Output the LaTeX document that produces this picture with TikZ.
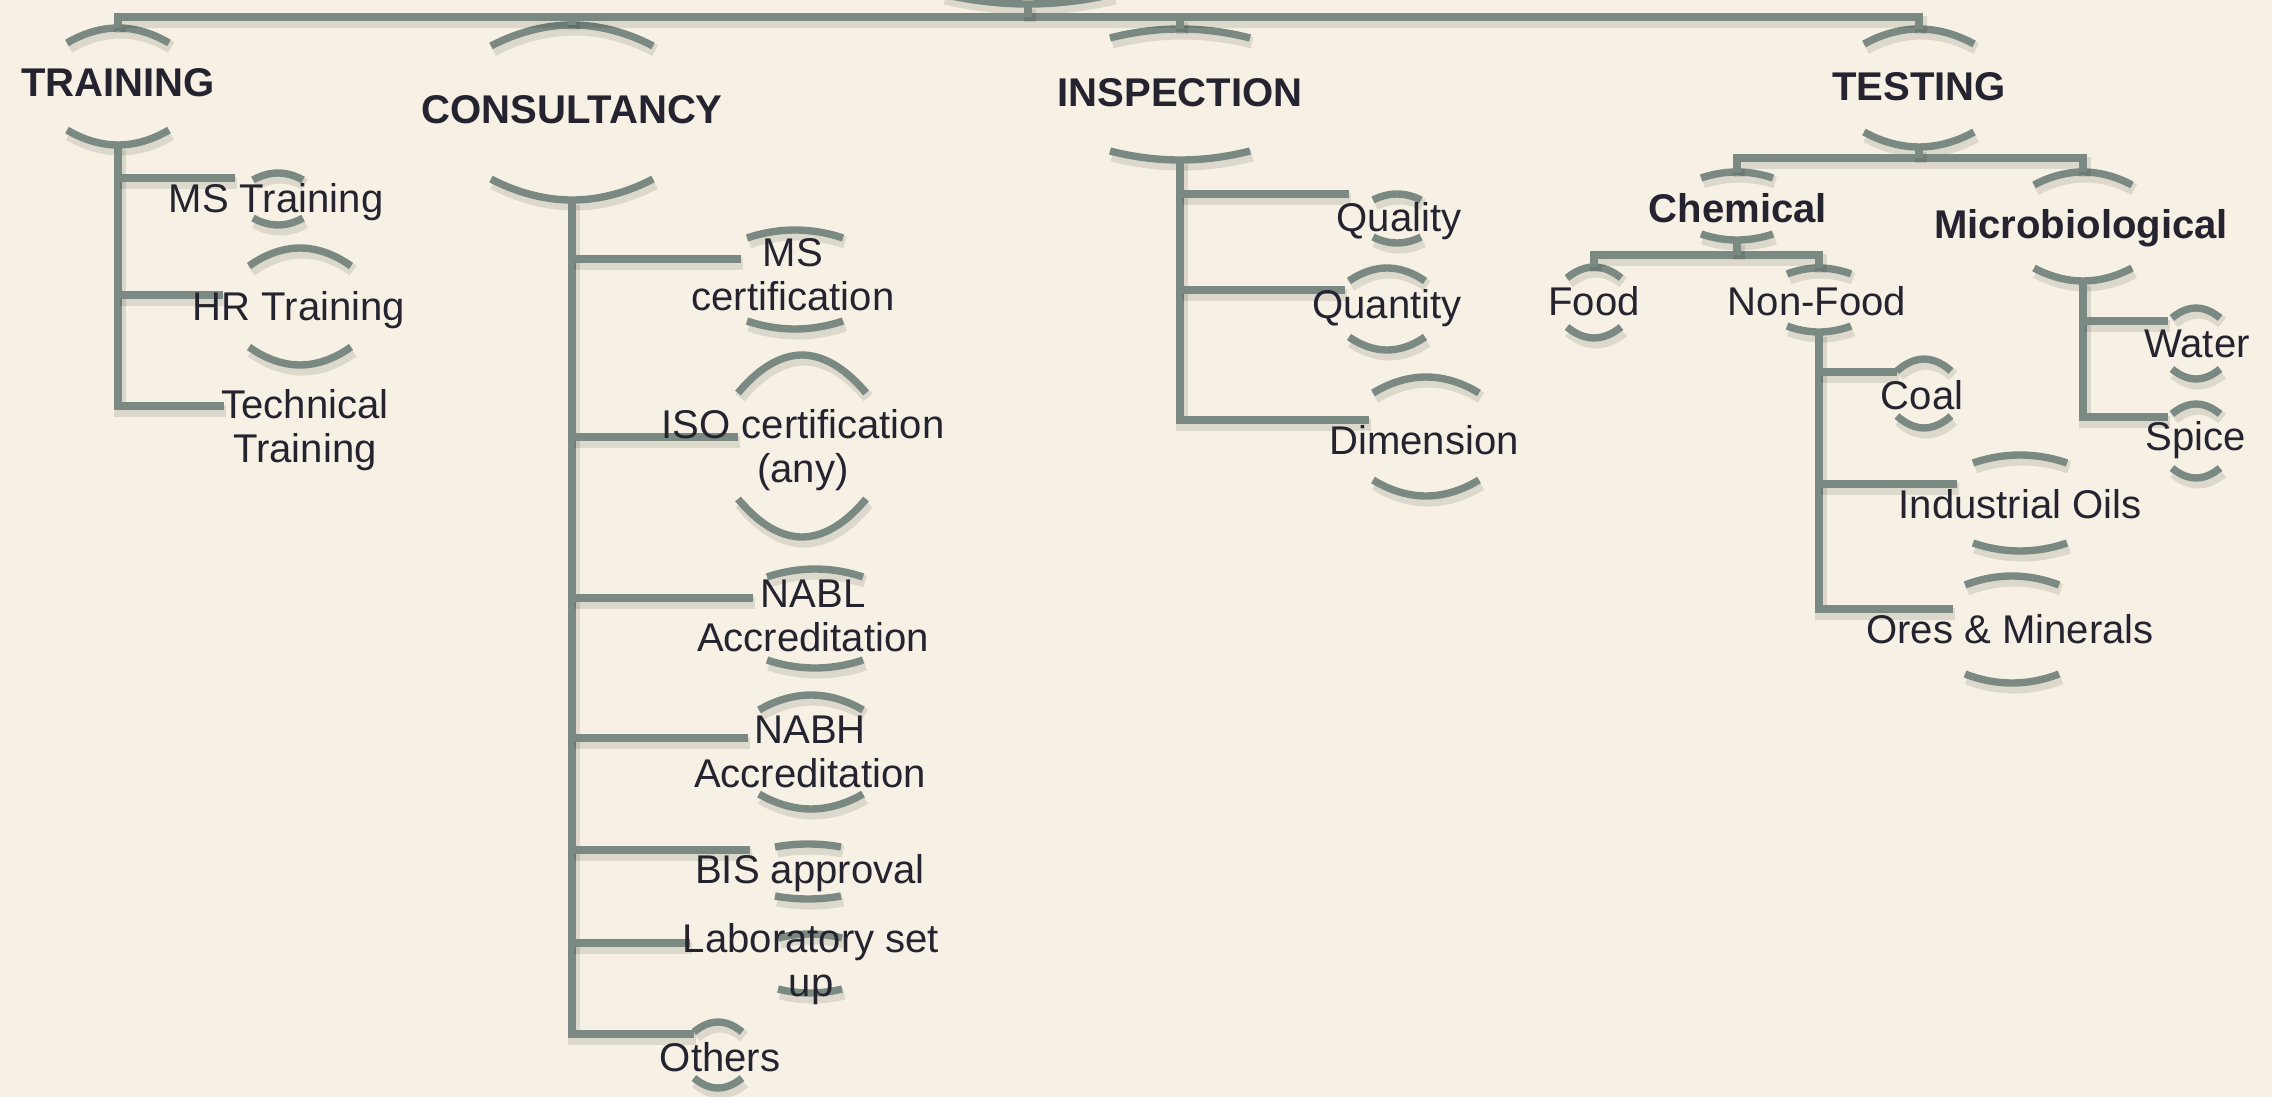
\documentclass[tikz,border=0pt]{standalone}
\usepackage{fontspec}
\setmainfont{Liberation Sans}
\usetikzlibrary{calc}
\definecolor{linegray}{HTML}{7B8983}
\definecolor{inkdark}{HTML}{24232F}
\definecolor{paper}{HTML}{F6F1E4}
\tikzset{
    shade line/.style = { preaction={draw=black, draw opacity=0.10, line width=3.4pt, transform canvas={shift={(0.6pt,-1.3pt)}}} },
      conn/.style = { line width=2.3pt, color=linegray, shade line },
   halfarc/.style = { line width=2.1pt, color=linegray, shade line },
      item/.style = { font=\fontsize{11.4}{12.6}\selectfont, text=inkdark, align=center, inner sep=0pt },
      head/.style = { item, font=\fontsize{11.4}{12.6}\selectfont\bfseries }
}
% name, x, top apex, bottom apex, half width, sag
\newcommand\harcs[6]{%
  \coordinate (#1-t) at (#2,#3);
  \coordinate (#1-b) at (#2,#4);
  \draw[halfarc] ({#2-#5},{#3+#6}) parabola bend (#1-t) ({#2+#5},{#3+#6});
  \draw[halfarc] ({#2-#5},{#4-#6}) parabola bend (#1-b) ({#2+#5},{#4-#6});
}

\begin{document}
\begin{tikzpicture}[x=0.01cm, y=-0.01cm]
  \fill[paper] (0,0) rectangle (2272,1097);
  \useasboundingbox (0,0) rectangle (2272,1097);

  % arcs round every box
  \coordinate (hq-b) at (1028,4);
  \draw[halfarc] (943,-6) parabola bend (hq-b) (1113,-6);
  \harcs{train}{118}{28}{145}{51}{15}
  \harcs{cons}{572}{25}{200}{81}{21}
  \harcs{insp}{1180}{29}{160}{70}{9}
  \harcs{test}{1919}{29}{147}{55}{15}
  \harcs{mstr}{278}{173}{225}{25}{7}
  \harcs{hrtr}{300}{248}{365}{51}{18}
  \harcs{mscert}{795}{230}{329}{48}{8}
  \harcs{isocert}{802}{355}{537}{64}{38}
  \harcs{nabl}{815}{569}{668}{48}{8}
  \harcs{nabh}{811}{695}{809}{52}{15}
  \harcs{bis}{808}{844}{899}{33}{3}
  \harcs{lab}{810}{934}{993}{32}{4}
  \harcs{others}{718}{1022}{1088}{24}{10}
  \harcs{qual}{1397}{194}{243}{24}{6}
  \harcs{quant}{1387}{268}{350}{38}{13}
  \harcs{dim}{1426}{377}{496}{53}{16}
  \harcs{chem}{1737}{172}{240}{36}{6}
  \harcs{micro}{2083}{172}{281}{49}{13}
  \harcs{food}{1594}{267}{338}{27}{11}
  \harcs{nonfood}{1819}{268}{332}{32}{6}
  \harcs{coal}{1924}{359}{428}{27}{12}
  \harcs{oils}{2020}{455}{551}{47}{8}
  \harcs{ores}{2012}{576}{683}{47}{9}
  \harcs{water}{2196}{308}{379}{24}{10}
  \harcs{spice}{2196}{404}{478}{24}{10}

  % where the branches come in
  \coordinate (bar) at (0,17);
  \coordinate (tbar) at (0,158);
  \coordinate (cbar) at (0,255);
  \coordinate (mstr-w) at (235,178);
  \coordinate (hrtr-w) at (223,295);
  \coordinate (tectr-w) at (224,406);
  \coordinate (mscert-w) at (741,259);
  \coordinate (isocert-w) at (738,437);
  \coordinate (nabl-w) at (753,598);
  \coordinate (nabh-w) at (748,738);
  \coordinate (bis-w) at (750,850);
  \coordinate (lab-w) at (690,943);
  \coordinate (others-w) at (694,1034);
  \coordinate (qual-w) at (1349,194);
  \coordinate (quant-w) at (1345,290);
  \coordinate (dim-w) at (1369,420);
  \coordinate (coal-w) at (1897,372);
  \coordinate (oils-w) at (1957,484);
  \coordinate (ores-w) at (1953,609);
  \coordinate (water-w) at (2168,321);
  \coordinate (spice-w) at (2168,417);

  % connectors
  \draw[conn] (train-t) -- (train-t |- bar) -- (test-t |- bar) -- (test-t);
  \foreach \n in {hq-b, cons-t, insp-t}
    \draw[conn] (\n) -- (\n |- bar);
  \draw[conn] (train-b) |- (tectr-w);
  \foreach \n in {mstr, hrtr}
    \draw[conn] (train-b |- \n-w) -- (\n-w);
  \draw[conn] (cons-b) |- (others-w);
  \foreach \n in {mscert, isocert, nabl, nabh, bis, lab}
    \draw[conn] (cons-b |- \n-w) -- (\n-w);
  \draw[conn] (insp-b) |- (dim-w);
  \foreach \n in {qual, quant}
    \draw[conn] (insp-b |- \n-w) -- (\n-w);
  \draw[conn] (chem-t) -- (chem-t |- tbar) -- (micro-t |- tbar) -- (micro-t);
  \draw[conn] (test-b) -- (test-b |- tbar);
  \draw[conn] (food-t) -- (food-t |- cbar) -- (nonfood-t |- cbar) -- (nonfood-t);
  \draw[conn] (chem-b) -- (chem-b |- cbar);
  \draw[conn] (nonfood-b) |- (ores-w);
  \foreach \n in {coal, oils}
    \draw[conn] (nonfood-b |- \n-w) -- (\n-w);
  \draw[conn] (micro-b) |- (spice-w);
  \draw[conn] (micro-b |- water-w) -- (water-w);

  % texts
  \node[head] (train) at (118,83) {TRAINING};
  \node[head] (cons) at (572,110) {CONSULTANCY};
  \node[head] (insp) at (1180,93) {INSPECTION};
  \node[head] (test) at (1919,87) {TESTING};
  \node[item] (mstr) at (276,202) {MS Training};
  \node[item] (hrtr) at (299,310) {HR Training};
  \node[item] (tectr) at (305,430) {Technical\\Training};
  \node[item] (mscert) at (793,275) {MS\\certification};
  \node[item] (isocert) at (803,450) {ISO certification\\(any)};
  \node[item] (nabl) at (813,616) {NABL\\Accreditation};
  \node[item] (nabh) at (810,752) {NABH\\Accreditation};
  \node[item] (bis) at (810,873) {BIS approval};
  \node[item] (lab) at (811,964) {Laboratory set\\up};
  \node[item] (others) at (720,1057) {Others};
  \node[item] (qual) at (1399,221) {Quality};
  \node[item] (quant) at (1387,308) {Quantity};
  \node[item] (dim) at (1424,440) {Dimension};
  \node[head] (chem) at (1738,208) {Chemical};
  \node[head] (micro) at (2081,228) {Microbiological};
  \node[item] (food) at (1594,301) {Food};
  \node[item] (nonfood) at (1817,301) {Non-Food};
  \node[item] (coal) at (1922,395) {Coal};
  \node[item] (oils) at (2020,504) {Industrial Oils};
  \node[item] (ores) at (2010,629) {Ores \& Minerals};
  \node[item] (water) at (2197,344) {Water};
  \node[item] (spice) at (2196,440) {Spice};
\end{tikzpicture}
\end{document}
